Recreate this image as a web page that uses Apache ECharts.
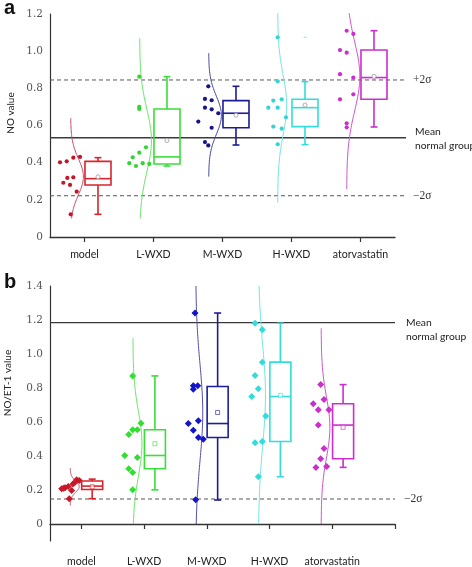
<!DOCTYPE html>
<html><head><meta charset="utf-8">
<script src="https://cdn.jsdelivr.net/npm/echarts@6/dist/echarts.min.js"></script>
<style>html,body{margin:0;padding:0;background:#fff}#c{width:472px;height:567px}</style>
</head><body><div id="c"></div>
<script>
// ---------- data ----------
const categories = ['model', 'L-WXD', 'M-WXD', 'H-WXD', 'atorvastatin'];
const yTicksA = [0, 0.2, 0.4, 0.6, 0.8, 1.0, 1.2];
const yTicksB = [0, 0.2, 0.4, 0.6, 0.8, 1.0, 1.2, 1.4];

// Panel a : NO value
const noModel = [0.402, 0.407, 0.427, 0.431, 0.292, 0.318, 0.321, 0.280, 0.244, 0.122];
const noL     = [0.863, 0.701, 0.689, 0.483, 0.454, 0.429, 0.397, 0.382, 0.397, 0.393];
const noM     = [0.811, 0.743, 0.736, 0.696, 0.687, 0.666, 0.621, 0.588, 0.511, 0.493];
const noH     = [1.075, 0.838, 0.734, 0.741, 0.696, 0.696, 0.644, 0.594, 0.583, 0.499];
const noAtor  = [1.110, 1.093, 1.006, 0.992, 0.876, 0.858, 0.768, 0.741, 0.612, 0.590];
// horizontal jitter of the dots (category units)
const jitNoModel = [-0.355, -0.258, -0.162, -0.065, -0.307, -0.249, -0.162, -0.210, -0.113, -0.200];
const jitNoL     = [-0.206, -0.206, -0.206, -0.109, -0.206, -0.301, -0.351, -0.254, -0.157, -0.061];
const jitNoM     = [-0.206, -0.254, -0.157, -0.254, -0.157, -0.061, -0.351, -0.157, -0.254, -0.206];
const jitNoH     = [-0.200, -0.200, -0.264, -0.142, -0.336, -0.200, -0.080, -0.264, -0.142, -0.200];
const jitNoAtor  = [-0.200, -0.104, -0.297, -0.200, -0.297, -0.104, -0.104, -0.297, -0.200, -0.200];
// box stats: [low whisker, Q1, median, Q3, high whisker]
const boxNo = [
  [0.122, 0.280, 0.314, 0.407, 0.427],
  [0.382, 0.393, 0.431, 0.689, 0.863],
  [0.495, 0.588, 0.666, 0.734, 0.811],
  [0.497, 0.594, 0.696, 0.741, 0.836],
  [0.592, 0.741, 0.858, 1.006, 1.110]
];
const outlierNo = [[3, 1.075]];
const refNo = [0.534, 0.845, 0.222];          // mean normal group, +2σ, −2σ
const curveLoNo = [0.100, 0.100, 0.325, 0.185, 0.258];
const curveHiNo = [0.639, 1.069, 0.989, 1.204, 1.204];

// Panel b : NO/ET-1 value
const rModel = [0.207, 0.213, 0.220, 0.197, 0.235, 0.260, 0.256, 0.149, 0.245, 0.210];
const rL     = [0.871, 0.593, 0.554, 0.554, 0.527, 0.403, 0.391, 0.325, 0.303, 0.201];
const rM     = [1.241, 0.813, 0.813, 0.793, 0.591, 0.607, 0.552, 0.509, 0.499, 0.143];
const rH     = [1.181, 1.142, 0.952, 0.873, 0.795, 0.750, 0.636, 0.478, 0.485, 0.278];
const rAtor  = [0.820, 0.707, 0.732, 0.672, 0.672, 0.582, 0.444, 0.384, 0.333, 0.338];
const jitRModel = [-0.314, -0.261, -0.209, -0.155, -0.134, -0.075, -0.033, -0.193, -0.102, -0.285];
const jitRL     = [-0.182, -0.049, -0.182, -0.108, -0.245, -0.309, -0.108, -0.245, -0.182, -0.182];
const jitRM     = [-0.188, -0.215, -0.145, -0.215, -0.295, -0.135, -0.215, -0.135, -0.056, -0.177];
const jitRH     = [-0.231, -0.115, -0.115, -0.231, -0.179, -0.284, -0.061, -0.231, -0.115, -0.179];
const jitRAtor  = [-0.185, -0.303, -0.132, -0.223, -0.053, -0.223, -0.132, -0.185, -0.260, -0.089];
const boxR = [
  [0.149, 0.203, 0.223, 0.253, 0.264],
  [0.201, 0.325, 0.403, 0.554, 0.871],
  [0.141, 0.509, 0.591, 0.809, 1.241],
  [0.278, 0.485, 0.750, 0.952, 1.181],
  [0.333, 0.384, 0.582, 0.707, 0.820]
];
const refR = [1.184, null, 0.147];
const curveLoR = [0.109, 0.000, 0.000, 0.000, 0.000];
const curveHiR = [0.329, 1.093, 1.400, 1.400, 1.151];

// ---------- styles ----------
const boxColA   = ['#d6262c', '#3ade3a', '#1c1c94', '#35dcdc', '#cc2ecc'];
const dotColA   = ['#c01828', '#2fd82f', '#16168a', '#30d6d6', '#cc2ecc'];
const curveColA = ['#c4486a', '#6ae46a', '#46469c', '#70e6e6', '#cc55cc'];
const boxColB   = ['#d6262c', '#3ade3a', '#1c1c9c', '#35dcdc', '#cc2ecc'];
const dotColB   = ['#c81828', '#2fe02f', '#1414c8', '#30dcdc', '#cc2ecc'];
const curveColB = ['#c4486a', '#6ae46a', '#5050a8', '#70e6e6', '#cc55cc'];
const curveAmpA = [0.184, 0.170, 0.184, 0.130, 0.190];
const curveAmpB = [0.143, 0.143, 0.112, 0.112, 0.139];

const PA = {grid: 0, boxL: 0.007, boxR: 0.384, cap: 0.05, base: -0.2, xEnd: 5.16, symbol: 'circle', size: 4.2,
  meanDy: -5.7, groupDy: 8.3, labDx: 9, meanShape: 'circle', meanCol: '#b0a0a8'};
const PB = {grid: 1, boxL: 0.005, boxR: 0.34, cap: 0.056, base: -0.177, xEnd: 5.5, symbol: 'diamond', size: 7,
  meanDy: 0, groupDy: 14.3, labDx: 11, meanShape: 'rect', meanCol: null};

function avg(a) { return a.reduce((s, v) => s + v, 0) / a.length; }
function sdev(a) { const m = avg(a); return Math.sqrt(a.reduce((s, v) => s + (v - m) * (v - m), 0) / (a.length - 1)); }

const groupsA = [noModel, noL, noM, noH, noAtor];
const jitA = [jitNoModel, jitNoL, jitNoM, jitNoH, jitNoAtor];
const groupsB = [rModel, rL, rM, rH, rAtor];
const jitB = [jitRModel, jitRL, jitRM, jitRH, jitRAtor];

const sideFont = '10.3px Lato';

function curveSeries(P, groups, lo, hi, amp, cols) {
  return {
    type: 'custom', xAxisIndex: P.grid, yAxisIndex: P.grid, z: 2, silent: true,
    data: groups.map((g, i) => [i, avg(g), sdev(g), lo[i], hi[i], amp[i]]),
    renderItem(params, api) {
      const i = api.value(0), m = api.value(1), s = api.value(2), l = api.value(3), h = api.value(4), a = api.value(5);
      const c = i + 0.5 + P.base;
      const pts = [];
      const n = 80;
      for (let k = 0; k <= n; k++) {
        const y = l + (h - l) * k / n;
        const x = c + a * Math.exp(-0.5 * Math.pow((y - m) / s, 2));
        pts.push(api.coord([x, y]));
      }
      return {type: 'polyline', shape: {points: pts}, style: {stroke: cols[i], lineWidth: 1, fill: null}};
    }
  };
}

function dotSeries(P, groups, jit, cols) {
  return groups.map((g, i) => ({
    type: 'scatter', xAxisIndex: P.grid, yAxisIndex: P.grid, z: 3, silent: true,
    symbol: P.symbol, symbolSize: P.size, itemStyle: {color: cols[i], opacity: 1},
    data: g.map((v, k) => [i + 0.5 + jit[i][k], v])
  }));
}

function boxSeries(P, boxes, groups, cols, outliers) {
  return {
    type: 'custom', xAxisIndex: P.grid, yAxisIndex: P.grid, z: 4, silent: true,
    data: boxes.map((b, i) => [i, b[0], b[1], b[2], b[3], b[4], avg(groups[i])]),
    renderItem(params, api) {
      const i = api.value(0), c = i + 0.5;
      const col = cols[i];
      const X = v => api.coord([v, 0])[0];
      const Y = v => api.coord([0, v])[1];
      const x0 = X(c + P.boxL), x1 = X(c + P.boxR), xm = (x0 + x1) / 2;
      const cw = X(c + P.cap) - X(c);
      const yl = Y(api.value(1)), q1 = Y(api.value(2)), md = Y(api.value(3)), q3 = Y(api.value(4)), yh = Y(api.value(5)), mn = Y(api.value(6));
      const st = {stroke: col, lineWidth: 1.6, fill: null};
      const ch = [
        {type: 'line', shape: {x1: xm, y1: q3, x2: xm, y2: yh}, style: st},
        {type: 'line', shape: {x1: xm, y1: q1, x2: xm, y2: yl}, style: st},
        {type: 'line', shape: {x1: xm - cw, y1: yh, x2: xm + cw, y2: yh}, style: st},
        {type: 'line', shape: {x1: xm - cw, y1: yl, x2: xm + cw, y2: yl}, style: st},
        {type: 'rect', shape: {x: x0, y: q3, width: x1 - x0, height: q1 - q3}, style: st},
        {type: 'line', shape: {x1: x0, y1: md, x2: x1, y2: md}, style: st}
      ];
      const mc = P.meanCol || col;
      if (P.meanShape === 'circle') {
        ch.push({type: 'circle', shape: {cx: xm, cy: mn, r: 2}, style: {stroke: mc, lineWidth: 0.9, fill: '#fff'}});
      } else {
        ch.push({type: 'rect', shape: {x: xm - 2, y: mn - 2, width: 4, height: 4}, style: {stroke: col, opacity: 0.7, lineWidth: 0.9, fill: '#fff'}});
      }
      (outliers || []).forEach(o => {
        if (o[0] === i) {
          const yo = Y(o[1]);
          ch.push({type: 'line', shape: {x1: xm - 1.5, y1: yo, x2: xm + 1.5, y2: yo}, style: {stroke: col, lineWidth: 1, opacity: 0.6}});
        }
      });
      return {type: 'group', children: ch};
    }
  };
}

function refSeries(P, refs) {
  const data = [];
  refs.forEach((v, k) => { if (v !== null) data.push([v, k]); });
  return {
    type: 'custom', xAxisIndex: P.grid, yAxisIndex: P.grid, z: 1, silent: true, clip: false,
    data: data,
    renderItem(params, api) {
      const y = api.value(0), k = api.value(1);
      const p0 = api.coord([0, y]), p1 = api.coord([P.xEnd, y]);
      const ch = [];
      if (k === 0) {
        ch.push({type: 'line', shape: {x1: p0[0], y1: p0[1], x2: p1[0], y2: p1[1]}, style: {stroke: '#3a3a3a', lineWidth: 1.3}});
        ch.push({type: 'text', style: {text: 'Mean', x: p1[0] + P.labDx, y: p1[1] + P.meanDy, verticalAlign: 'middle', font: sideFont, fill: '#222'}});
        ch.push({type: 'text', style: {text: 'normal group', x: p1[0] + P.labDx, y: p1[1] + P.groupDy, verticalAlign: 'middle', font: sideFont, fill: '#222'}});
      } else {
        ch.push({type: 'line', shape: {x1: p0[0], y1: p0[1], x2: p1[0], y2: p1[1]}, style: {stroke: '#555', lineWidth: 1, lineDash: [4, 3]}});
        ch.push({type: 'text', style: {text: k === 1 ? '+2σ' : '−2σ', x: p1[0] + P.labDx - 2, y: p1[1], verticalAlign: 'middle', font: '11.5px "Liberation Serif"', fill: '#333'}});
      }
      return {type: 'group', children: ch};
    }
  };
}

const catTicksA = [0.5, 1.5, 2.5, 3.5, 4.5];
const catTicksB = [0.5, 1.5, 2.5, 3.5, 4.5, 5.5];
const yLabel = {fontFamily: 'DejaVu Serif', fontSize: 10.5, color: '#555', margin: 7,
  formatter: v => (Math.abs(v) < 1e-9 ? '0' : v.toFixed(1))};
const xLabel = {fontFamily: 'Lato', fontSize: 10.6, color: '#222',
  formatter: v => categories[Math.floor(v)] || ''};

const option = {
  animation: false,
  backgroundColor: '#fff',
  grid: [
    {left: 50, top: 14, width: 345, height: 223},
    {left: 50, top: 286, width: 345, height: 255}
  ],
  xAxis: [
    {gridIndex: 0, type: 'value', min: 0, max: 5, splitLine: {show: false},
      axisLine: {show: true, lineStyle: {color: '#333', width: 1.3}},
      axisTick: {show: true, customValues: catTicksA, length: 5, lineStyle: {color: '#333', width: 1.2}},
      axisLabel: Object.assign({customValues: catTicksA, margin: 12}, xLabel)},
    {gridIndex: 1, type: 'value', min: 0, max: 5.5, splitLine: {show: false},
      axisLine: {show: true, lineStyle: {color: '#333', width: 1.3}},
      axisTick: {show: true, customValues: catTicksB, length: 5, lineStyle: {color: '#333', width: 1.2}},
      axisLabel: Object.assign({customValues: catTicksA, margin: 15}, xLabel)}
  ],
  yAxis: [
    {gridIndex: 0, type: 'value', min: 0, max: 1.2, interval: 0.2, splitLine: {show: false},
      axisLine: {show: true, lineStyle: {color: '#333', width: 1.2}}, axisTick: {show: false},
      axisLabel: Object.assign({customValues: yTicksA}, yLabel)},
    {gridIndex: 1, type: 'value', min: -0.1, max: 1.4, splitLine: {show: false},
      axisLine: {show: true, lineStyle: {color: '#333', width: 1.2}}, axisTick: {show: false},
      axisLabel: Object.assign({customValues: yTicksB}, yLabel)}
  ],
  graphic: [
    {type: 'text', left: 4, top: -2, style: {text: 'a', font: 'bold 20px "Liberation Sans"', fill: '#111'}},
    {type: 'text', left: 4, top: 272, style: {text: 'b', font: 'bold 20px "Liberation Sans"', fill: '#111'}},
    {type: 'text', x: 11, y: 113, rotation: Math.PI / 2, style: {text: 'NO value', font: '10px Lato', fill: '#222', align: 'center', verticalAlign: 'middle'}},
    {type: 'text', x: 8, y: 383, rotation: Math.PI / 2, style: {text: 'NO/ET-1 value', font: '10px Lato', fill: '#222', align: 'center', verticalAlign: 'middle'}}
  ],
  series: [
    refSeries(PA, refNo),
    curveSeries(PA, groupsA, curveLoNo, curveHiNo, curveAmpA, curveColA),
    ...dotSeries(PA, groupsA, jitA, dotColA),
    boxSeries(PA, boxNo, groupsA, boxColA, outlierNo),
    refSeries(PB, refR),
    curveSeries(PB, groupsB, curveLoR, curveHiR, curveAmpB, curveColB),
    ...dotSeries(PB, groupsB, jitB, dotColB),
    boxSeries(PB, boxR, groupsB, boxColB, [])
  ]
};
const chart = echarts.init(document.getElementById('c'));
chart.setOption(option);
</script>
</body></html>
